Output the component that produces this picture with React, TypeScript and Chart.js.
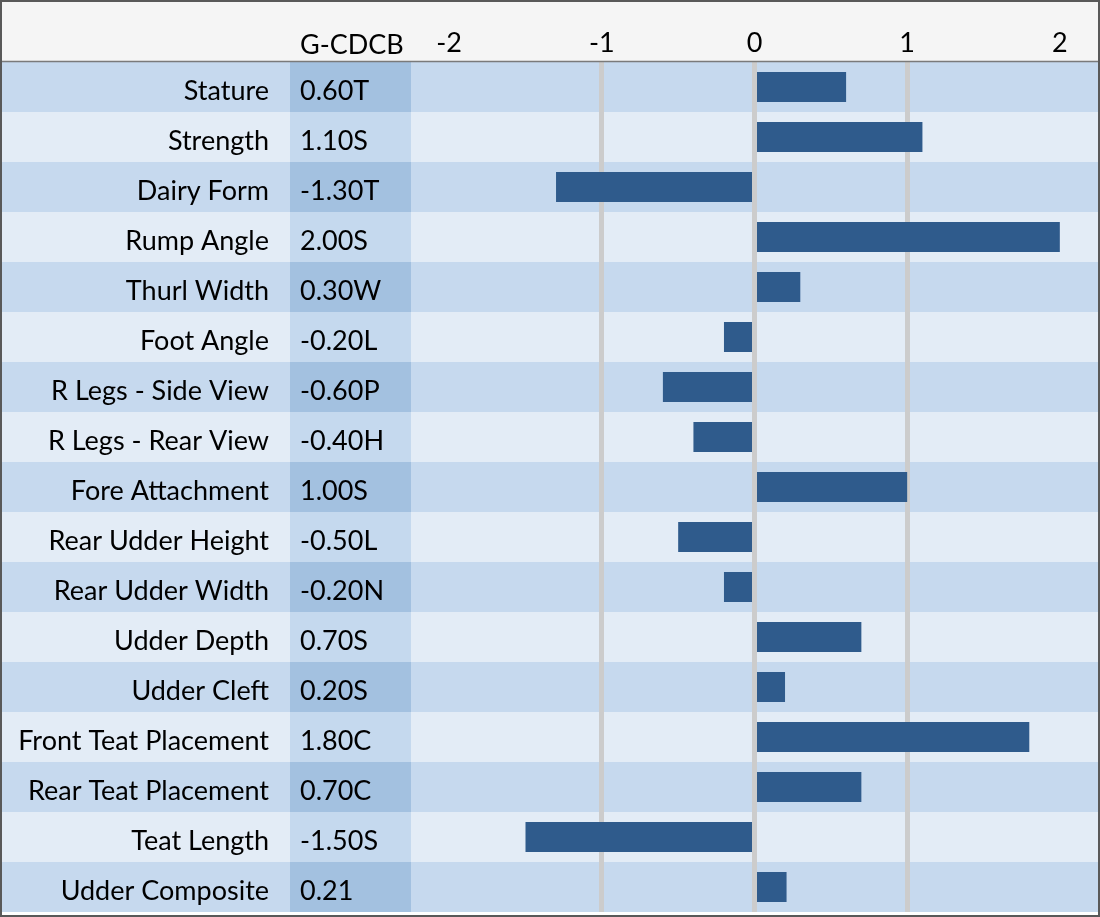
import React, { useEffect, useRef } from "react";
import { Chart, registerables } from "chart.js";

Chart.register(...registerables);

const traits = [
  "Stature",
  "Strength",
  "Dairy Form",
  "Rump Angle",
  "Thurl Width",
  "Foot Angle",
  "R Legs - Side View",
  "R Legs - Rear View",
  "Fore Attachment",
  "Rear Udder Height",
  "Rear Udder Width",
  "Udder Depth",
  "Udder Cleft",
  "Front Teat Placement",
  "Rear Teat Placement",
  "Teat Length",
  "Udder Composite",
];

const values = [0.6, 1.1, -1.3, 2.0, 0.3, -0.2, -0.6, -0.4, 1.0, -0.5, -0.2, 0.7, 0.2, 1.8, 0.7, -1.5, 0.21];

const codes = [
  "0.60T",
  "1.10S",
  "-1.30T",
  "2.00S",
  "0.30W",
  "-0.20L",
  "-0.60P",
  "-0.40H",
  "1.00S",
  "-0.50L",
  "-0.20N",
  "0.70S",
  "0.20S",
  "1.80C",
  "0.70C",
  "-1.50S",
  "0.21",
];

const xTicks = [-2, -1, 0, 1, 2];
const columnHeader = "G-CDCB";

const FONT = "Lato, 'Open Sans', sans-serif";
const FONT_SIZE = 27;

export default function App() {
  const canvasRef = useRef<HTMLCanvasElement | null>(null);

  useEffect(() => {
    document.body.style.margin = "0";
    const canvas = canvasRef.current;
    if (!canvas) return;

    const tablePlugin = {
      id: "tablePlugin",
      beforeDraw(chart: any) {
        const { ctx, chartArea, scales } = chart;
        const y = scales.y;
        const W = chart.width;
        ctx.save();
        ctx.fillStyle = "#f5f5f5";
        ctx.fillRect(0, 0, W, chartArea.top);
        traits.forEach((_, i) => {
          const c = y.getPixelForValue(i);
          const half = 25;
          const dark = i % 2 === 0;
          ctx.fillStyle = dark ? "#c6d9ee" : "#e3ecf6";
          ctx.fillRect(0, c - half, W, half * 2);
          ctx.fillStyle = dark ? "#a3c1e0" : "#c5d9ee";
          ctx.fillRect(290, c - half, chartArea.left - 290, half * 2);
        });
        ctx.restore();
      },
      afterDraw(chart: any) {
        const { ctx, chartArea, scales } = chart;
        const y = scales.y;
        ctx.save();
        ctx.fillStyle = "#000";
        ctx.font = `${FONT_SIZE}px ${FONT}`;
        ctx.textAlign = "left";
        ctx.textBaseline = "middle";
        codes.forEach((t, i) => {
          ctx.fillText(t, 300, y.getPixelForValue(i) + 4);
        });
        ctx.fillText(columnHeader, 300, 45);
        ctx.strokeStyle = "#7a7a7a";
        ctx.lineWidth = 1.5;
        ctx.beginPath();
        ctx.moveTo(0, chartArea.top - 0.5);
        ctx.lineTo(chart.width, chartArea.top - 0.5);
        ctx.stroke();
        ctx.fillStyle = "#ffffff";
        ctx.fillRect(0, chartArea.bottom, chart.width, chart.height - chartArea.bottom);
        ctx.strokeStyle = "#595959";
        ctx.lineWidth = 2;
        ctx.strokeRect(1, 1, chart.width - 2, chart.height - 2);
        ctx.restore();
      },
    };

    const chart = new Chart(canvas, {
      type: "bar",
      data: {
        labels: traits,
        datasets: [
          {
            data: values,
            backgroundColor: "#2f5b8c",
            borderWidth: 0,
            barPercentage: 0.6,
            categoryPercentage: 1.0,
          },
        ],
      },
      options: {
        indexAxis: "y",
        animation: false,
        responsive: true,
        maintainAspectRatio: false,
        devicePixelRatio: 1,
        layout: { padding: { left: 0, right: 2, top: 0, bottom: 5 } },
        plugins: {
          legend: { display: false },
          tooltip: { enabled: false },
        },
        scales: {
          x: {
            position: "top",
            min: -2.25,
            max: 2.25,
            afterBuildTicks: (scale: any) => {
              scale.ticks = xTicks.map((v) => ({ value: v }));
            },
            afterFit: (scale: any) => {
              scale.height = 62;
              scale.paddingLeft = 0;
              scale.paddingRight = 0;
            },
            border: { display: false },
            grid: {
              drawTicks: false,
              tickLength: 0,
              lineWidth: 5,
              color: (ctx: any) =>
                ctx.tick && Math.abs(ctx.tick.value) >= 2 ? "rgba(0,0,0,0)" : "#cccccc",
            },
            ticks: {
              color: "#000",
              padding: 3,
              font: { family: FONT, size: FONT_SIZE },
              maxRotation: 0,
              autoSkip: false,
            },
          },
          y: {
            afterFit: (scale: any) => {
              scale.width = 411;
              scale.paddingTop = 0;
              scale.paddingBottom = 0;
            },
            border: { display: false },
            grid: { display: false, drawTicks: false, tickLength: 0 },
            ticks: {
              color: "#000",
              padding: 142,
              labelOffset: 4,
              font: { family: FONT, size: FONT_SIZE },
              autoSkip: false,
            },
          },
        },
      },
      plugins: [tablePlugin],
    });

    return () => {
      chart.destroy();
    };
  }, []);

  return (
    <div style={{ position: "absolute", left: 0, top: 0, width: 1100, height: 917 }}>
      <canvas ref={canvasRef} />
    </div>
  );
}
